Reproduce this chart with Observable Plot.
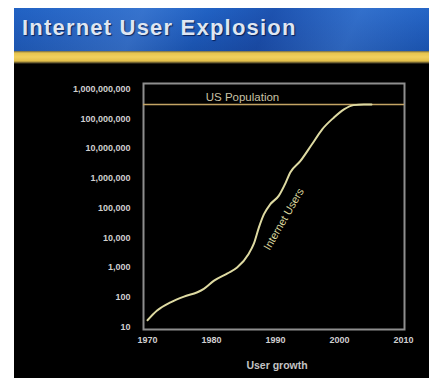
<!DOCTYPE html>
<html>
<head>
<meta charset="utf-8">
<script src="https://cdn.jsdelivr.net/npm/d3@7"></script>
<script src="https://cdn.jsdelivr.net/npm/@observablehq/plot@0.6"></script>
<style>
  html, body { margin: 0; padding: 0; background: #fff; overflow: hidden; }
  #slide { position: absolute; left: 14px; top: 8px; width: 415px; height: 370px; background: #000; }
  #banner {
    height: 43px;
    background:
      linear-gradient(115deg, rgba(255,255,255,0) 0%, rgba(120,170,240,0.25) 30%, rgba(255,255,255,0) 45%, rgba(20,40,120,0.25) 60%, rgba(120,170,240,0.2) 80%, rgba(255,255,255,0) 100%),
      linear-gradient(180deg, #2162c4 0%, #1d58b6 60%, #1a52ac 100%);
    position: relative;
  }
  #banner h1 {
    margin: 0; position: absolute; left: 8px; top: 9px;
    font-family: "Liberation Sans", Arial, sans-serif; font-weight: bold;
    font-size: 22px; letter-spacing: 1.2px; line-height: 1;
    color: #dfe6f2; text-shadow: 1px 1px 1px rgba(0,10,50,0.7);
  }
  #stripe {
    height: 13px;
    background: linear-gradient(180deg, #6e6848 0px, #e6c44e 2px, #f1d05e 6px, #e2bf4a 10px, #4e4528 12px, #000 13px);
  }
  svg { display: block; }
</style>
</head>
<body>
<div id="slide">
  <div id="banner"><h1>Internet User Explosion</h1></div>
  <div id="stripe"></div>
  <div id="chart"></div>
</div>
<script>
// Internet users over time (log scale), with the US population as a ceiling
const userYears  = [1970, 1971.5, 1973.6, 1975.7, 1977.8, 1978.8, 1980.4, 1982.5, 1984.0, 1985.8, 1986.6, 1987.4, 1988.2, 1989.2, 1990.5, 1991.6, 1992.3, 1993.9, 1995.7, 1997.3, 1999.1, 2000.7, 2002.2, 2003.8, 2005];
const userCounts = [17, 36, 68, 106, 148, 192, 364, 640, 1000, 2860, 6200, 22000, 62000, 135000, 256000, 715000, 1550000, 3800000, 13800000, 44000000, 108000000, 206000000, 285000000, 300000000, 300000000];

const usPopulation = 300000000;

const xTicks = [1970, 1980, 1990, 2000, 2010];
const yTicks = [10, 100, 1000, 10000, 100000, 1000000, 10000000, 100000000, 1000000000];

const usLabel = "US Population";
const usLabelYear = 1979.1;
const usersLabel = "Internet Users";
const usersLabelYear = 1991.3;
const usersLabelValue = 42000;
const xAxisTitle = "User growth";

const chart = Plot.plot({
  width: 415,
  height: 314,
  marginLeft: 129,
  marginRight: 25,
  marginTop: 19,
  marginBottom: 49,
  style: {
    background: "#000",
    color: "#cfcfcf",
    fontFamily: "'Liberation Sans', Arial, sans-serif",
    fontSize: "9px",
    fontWeight: "bold",
    overflow: "visible"
  },
  x: {
    domain: [1970, 2010],
    insetLeft: 4,
    insetRight: 1,
    ticks: xTicks,
    tickFormat: d => String(d),
    tickSize: 0,
    tickPadding: 7,
    label: null
  },
  y: {
    type: "log",
    domain: [10, 1000000000],
    insetTop: 5.4,
    insetBottom: 2.4,
    ticks: yTicks,
    tickFormat: d3.format(","),
    tickSize: 0,
    tickPadding: 13,
    label: null
  },
  marks: [
    Plot.frame({stroke: "#8e8e8e", strokeWidth: 2}),
    Plot.ruleY([usPopulation], {stroke: "#c4a464", strokeWidth: 1.6}),
    Plot.line(userYears, {
      x: userYears,
      y: userCounts,
      curve: "monotone-x",
      stroke: "#dedaa2",
      strokeWidth: 2
    }),
    Plot.text([usLabel], {
      x: [usLabelYear],
      y: [usPopulation],
      dy: -7,
      textAnchor: "start",
      fill: "#c9c2a6",
      fontSize: 11.5,
      fontWeight: "normal"
    }),
    Plot.text([usersLabel], {
      x: [usersLabelYear],
      y: [usersLabelValue],
      rotate: -60,
      fill: "#d8d49c",
      fontSize: 11,
      fontWeight: "normal"
    }),
    Plot.text([xAxisTitle], {
      frameAnchor: "bottom",
      dx: 3,
      dy: 39,
      fill: "#c4c4c4",
      fontSize: 10.5
    })
  ]
});

document.getElementById("chart").appendChild(chart);
</script>
</body>
</html>
